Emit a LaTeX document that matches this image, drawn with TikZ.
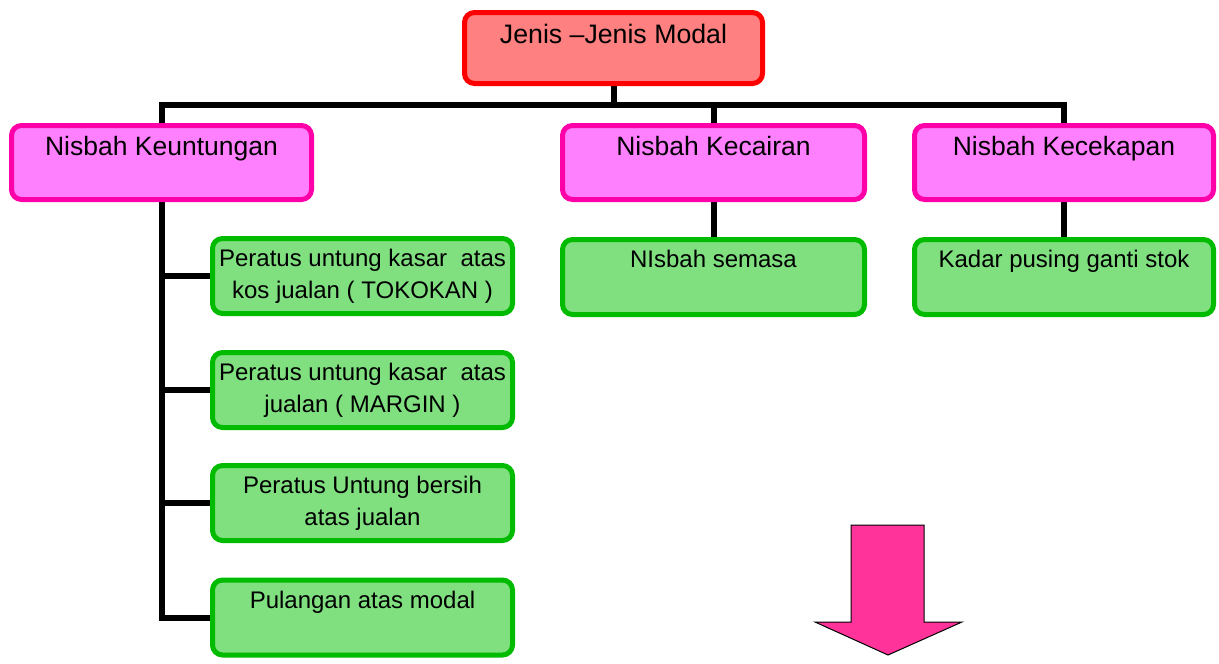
\documentclass[tikz,border=0pt]{standalone}
\usepackage{fontspec}
\setmainfont{Liberation Sans}
\usetikzlibrary{backgrounds}
\definecolor{topfill}{HTML}{FF8080}
\definecolor{topline}{HTML}{FF0000}
\definecolor{pinkfill}{HTML}{FF80FF}
\definecolor{pinkline}{HTML}{FF00A8}
\definecolor{greenfill}{HTML}{80E080}
\definecolor{greenline}{HTML}{00BB00}
\definecolor{arrowfill}{HTML}{FF3399}
\newcommand{\bxt}[4]{\parbox[c][#2][t]{#1}{\centering\rule{0pt}{#3}#4\par}}
\begin{document}
\begin{tikzpicture}[x=1pt,y=-1pt,
  boxbase/.style={rounded corners=10pt, inner sep=0pt, line width=5pt},
  topbox/.style={boxbase, draw=topline, fill=topfill, font=\fontsize{26.7}{32}\selectfont},
  pinkbox/.style={boxbase, draw=pinkline, fill=pinkfill, font=\fontsize{26.5}{32}\selectfont},
  greenbox/.style={boxbase, draw=greenline, fill=greenfill, font=\fontsize{24}{32}\selectfont},
  conn/.style={line width=6pt, black, line join=miter},
  bigarrow/.style={fill=arrowfill, draw=black, line width=1pt, line join=miter}]
\useasboundingbox (0,0) rectangle (1219,664);

\node[topbox] (top) at (613.5,48) {\bxt{298pt}{71pt}{30.5pt}{Jenis –Jenis Modal}};

\node[pinkbox] (nk) at (161.5,162.5) {\bxt{300pt}{74pt}{29.5pt}{Nisbah Keuntungan}};
\node[pinkbox] (nc) at (713.5,162.5) {\bxt{302pt}{74pt}{29.5pt}{Nisbah Kecairan}};
\node[pinkbox] (ne) at (1064,162.5) {\bxt{299pt}{74pt}{29.5pt}{Nisbah Kecekapan}};

\node[greenbox] (g1) at (362.5,276) {\bxt{300pt}{75pt}{28.2pt}{Peratus untung kasar~ atas\\kos jualan ( TOKOKAN )}};
\node[greenbox] (g2) at (362.5,390) {\bxt{300pt}{75pt}{28.2pt}{Peratus untung kasar~ atas\\jualan ( MARGIN )}};
\node[greenbox] (g3) at (362.5,503) {\bxt{300pt}{75pt}{28.2pt}{Peratus Untung bersih\\atas jualan}};
\node[greenbox] (g4) at (362.5,617.5) {\bxt{300pt}{75pt}{28.2pt}{Pulangan atas modal}};

\node[greenbox] (gs) at (713.5,277) {\bxt{302pt}{75pt}{28.2pt}{NIsbah semasa}};
\node[greenbox] (gk) at (1064,277) {\bxt{299pt}{75pt}{28.2pt}{Kadar pusing ganti stok}};

\coordinate (bar) at (0,105);

\begin{pgfonlayer}{background}
  \draw[conn] (nk.north) -- (nk.north |- bar) -- (ne.north |- bar) -- (ne.north);
  \draw[conn] (top.south) -- (top.south |- bar);
  \draw[conn] (nc.north |- bar) -- (nc.north);
  \draw[conn] (nc.south) -- (gs.north);
  \draw[conn] (ne.south) -- (gk.north);
  \draw[conn] (nk.south) |- (g4.west);
  \draw[conn] (g1.west) -- (g1.west -| nk.south);
  \draw[conn] (g2.west) -- (g2.west -| nk.south);
  \draw[conn] (g3.west) -- (g3.west -| nk.south);
\end{pgfonlayer}

\draw[bigarrow] (851,525) -- (924,525) -- (924,622) -- (962,622) -- (888,655) -- (815,622) -- (851,622) -- cycle;
\end{tikzpicture}
\end{document}
